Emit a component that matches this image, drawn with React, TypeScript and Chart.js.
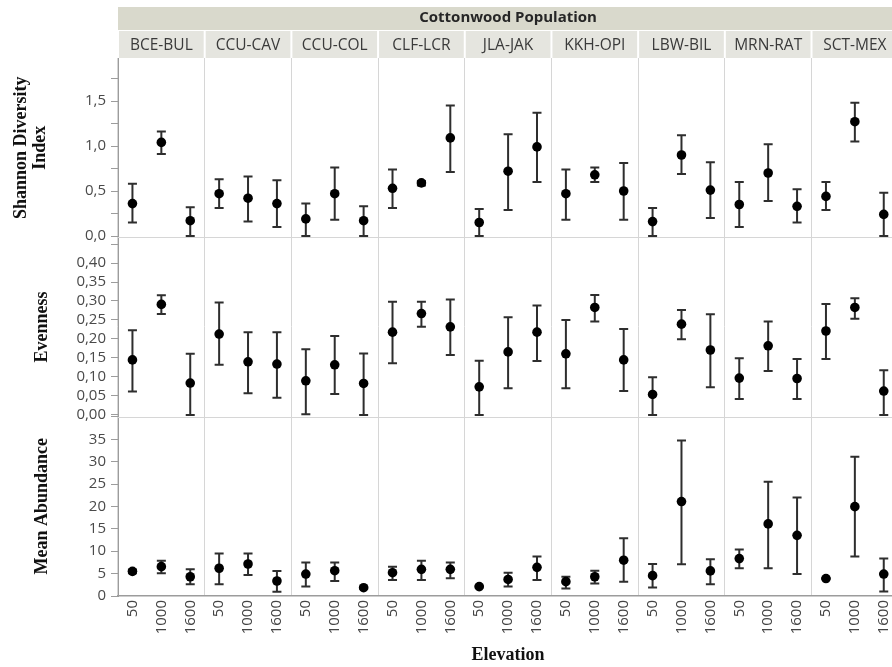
import React, { useEffect, useRef } from 'react';
import { Chart, registerables } from 'chart.js';

Chart.register(...registerables);

// ---------- data ----------
const populations = ['BCE-BUL', 'CCU-CAV', 'CCU-COL', 'CLF-LCR', 'JLA-JAK', 'KKH-OPI', 'LBW-BIL', 'MRN-RAT', 'SCT-MEX'];
const elevations = ['50', '1000', '1600'];

// order: population by population, elevation 50 / 1000 / 1600
const shannonMean = [0.36, 1.04, 0.17, 0.47, 0.42, 0.36, 0.19, 0.47, 0.17, 0.53, 0.59, 1.09, 0.15, 0.72, 0.99, 0.47, 0.68, 0.50, 0.16, 0.90, 0.51, 0.35, 0.70, 0.33, 0.44, 1.27, 0.24];
const shannonLow = [0.15, 0.91, 0.0, 0.31, 0.16, 0.10, 0.0, 0.18, 0.0, 0.31, 0.56, 0.71, 0.0, 0.29, 0.60, 0.18, 0.60, 0.18, 0.0, 0.69, 0.20, 0.10, 0.39, 0.15, 0.29, 1.05, 0.0];
const shannonHigh = [0.58, 1.16, 0.32, 0.63, 0.66, 0.62, 0.36, 0.76, 0.33, 0.74, 0.61, 1.45, 0.30, 1.13, 1.37, 0.74, 0.76, 0.81, 0.31, 1.12, 0.82, 0.60, 1.02, 0.52, 0.60, 1.48, 0.48];

const evenMean = [0.145, 0.291, 0.084, 0.213, 0.140, 0.134, 0.090, 0.132, 0.083, 0.218, 0.267, 0.232, 0.074, 0.166, 0.218, 0.161, 0.283, 0.145, 0.054, 0.239, 0.171, 0.097, 0.182, 0.096, 0.221, 0.283, 0.063];
const evenLow = [0.062, 0.266, 0.0, 0.132, 0.057, 0.045, 0.002, 0.055, 0.0, 0.136, 0.232, 0.158, 0.0, 0.070, 0.142, 0.070, 0.246, 0.063, 0.0, 0.199, 0.073, 0.042, 0.116, 0.042, 0.147, 0.253, 0.0];
const evenHigh = [0.223, 0.315, 0.161, 0.296, 0.218, 0.218, 0.173, 0.208, 0.162, 0.298, 0.298, 0.304, 0.143, 0.257, 0.288, 0.250, 0.316, 0.226, 0.099, 0.276, 0.265, 0.149, 0.246, 0.147, 0.292, 0.307, 0.118];

const abundMean = [5.5, 6.55, 4.3, 6.2, 7.15, 3.35, 4.9, 5.65, 1.85, 5.2, 5.95, 5.95, 2.1, 3.7, 6.4, 3.2, 4.3, 8.0, 4.55, 21.1, 5.6, 8.35, 16.1, 13.55, 3.9, 19.95, 4.9];
const abundLow = [5.1, 5.1, 2.6, 2.6, 4.7, 0.97, 2.1, 3.35, 1.65, 3.6, 3.6, 3.95, 1.9, 2.1, 3.6, 1.7, 2.8, 3.2, 1.9, 7.1, 2.6, 6.2, 6.2, 4.9, 3.8, 8.8, 1.0];
const abundHigh = [5.9, 7.9, 5.95, 9.5, 9.5, 5.6, 7.5, 7.5, 2.05, 6.55, 7.9, 7.5, 2.3, 5.2, 8.8, 4.3, 5.65, 12.9, 7.15, 34.7, 8.2, 10.4, 25.5, 22.0, 4.0, 31.1, 8.4];

const headerTitle = 'Cottonwood Population';
const xTitle = 'Elevation';
const rowTitles = [['Shannon Diversity', 'Index'], 'Evenness', 'Mean Abundance'];

const xLabels = populations.flatMap(() => elevations);

// ---------- styling ----------
const SANS = "'Open Sans', 'Noto Sans', sans-serif";
const SERIF = "'Liberation Serif', 'DejaVu Serif', serif";
const AXIS_GRAY = '#9c9c9c';
const GRID_GRAY = '#d6d6d6';

const errorBarPlugin = {
  id: 'errorBars',
  beforeDatasetsDraw(chart: any) {
    const ctx = chart.ctx;
    chart.data.datasets.forEach((ds: any, i: number) => {
      const meta = chart.getDatasetMeta(i);
      const ys = chart.scales[ds.yAxisID];
      ctx.save();
      ctx.strokeStyle = '#2e2e2e';
      ctx.lineWidth = 2;
      meta.data.forEach((pt: any, j: number) => {
        const x = pt.x;
        const yl = ys.getPixelForValue(ds.errLow[j]);
        const yh = ys.getPixelForValue(ds.errHigh[j]);
        ctx.beginPath();
        ctx.moveTo(x, yl);
        ctx.lineTo(x, yh);
        ctx.moveTo(x - 4.5, yl);
        ctx.lineTo(x + 4.5, yl);
        ctx.moveTo(x - 4.5, yh);
        ctx.lineTo(x + 4.5, yh);
        ctx.stroke();
      });
      ctx.restore();
    });
  },
};

const panelPlugin = {
  id: 'panels',
  beforeDatasetsDraw(chart: any) {
    const ctx = chart.ctx;
    const { left, right } = chart.chartArea;
    ctx.save();
    ctx.strokeStyle = GRID_GRAY;
    ctx.lineWidth = 1;
    ['y1', 'y2'].forEach((id) => {
      const y = Math.round(chart.scales[id].bottom) + 0.5;
      ctx.beginPath();
      ctx.moveTo(left, y);
      ctx.lineTo(right, y);
      ctx.stroke();
    });
    ctx.restore();
  },
  afterDraw(chart: any) {
    const ctx = chart.ctx;
    const { left, right } = chart.chartArea;
    const colW = (right - left) / populations.length;
    ctx.save();
    // top strip
    ctx.fillStyle = '#d9d9cc';
    ctx.fillRect(left, 7, right - left, 23);
    ctx.fillStyle = '#262626';
    ctx.font = `bold 15px ${SANS}`;
    ctx.textAlign = 'center';
    ctx.textBaseline = 'middle';
    ctx.fillText(headerTitle, (left + right) / 2, 18);
    // population strip
    populations.forEach((p, i) => {
      const x0 = left + i * colW;
      ctx.fillStyle = '#e5e5df';
      ctx.fillRect(x0 + 1, 31, colW - 2, 27);
      ctx.fillStyle = '#3a3a3a';
      ctx.font = `15.5px ${SANS}`;
      ctx.fillText(p, x0 + colW / 2, 46);
    });
    ctx.restore();
  },
};

const yCommon = () => ({
  type: 'linear' as const,
  position: 'left' as const,
  stack: 'rows',
  stackWeight: 1,
  grid: { drawOnChartArea: false, drawTicks: true, tickLength: 7, color: AXIS_GRAY },
  border: { color: AXIS_GRAY, width: 1 },
  afterFit: (s: any) => {
    s.width = 118;
  },
});

export default function App() {
  const ref = useRef<HTMLCanvasElement>(null);

  useEffect(() => {
    if (!ref.current) return;
    const tickFont = { family: SANS, size: 15 };
    const titleFont = { family: SERIF, size: 18, weight: 'bold' as const, lineHeight: 1.05 };
    const chart = new Chart(ref.current, {
      type: 'line',
      data: {
        labels: xLabels,
        datasets: [
          { label: 'Shannon', data: shannonMean, yAxisID: 'y1', xAxisID: 'x', errLow: shannonLow, errHigh: shannonHigh } as any,
          { label: 'Evenness', data: evenMean, yAxisID: 'y2', xAxisID: 'x', errLow: evenLow, errHigh: evenHigh } as any,
          { label: 'Abundance', data: abundMean, yAxisID: 'y3', xAxisID: 'x', errLow: abundLow, errHigh: abundHigh } as any,
        ].map((d) => ({
          ...d,
          showLine: false,
          pointRadius: 4.8,
          pointHoverRadius: 4.8,
          pointBackgroundColor: '#000',
          pointBorderColor: '#000',
          pointBorderWidth: 0,
        })),
      },
      options: {
        responsive: false,
        animation: false,
        maintainAspectRatio: false,
        events: [],
        layout: { padding: { top: 58, left: 0, right: 0, bottom: 0 } },
        plugins: { legend: { display: false }, tooltip: { enabled: false }, title: { display: false } },
        scales: {
          x: {
            type: 'category',
            position: 'bottom',
            offset: true,
            grid: {
              offset: true,
              drawTicks: false,
              color: (c: any) => (c.index % 3 === 0 ? GRID_GRAY : 'rgba(0,0,0,0)'),
            },
            border: { color: AXIS_GRAY, width: 1.5 },
            ticks: { autoSkip: false, minRotation: 90, maxRotation: 90, padding: 4, color: '#444', font: tickFont },
            title: { display: true, text: xTitle, color: '#111', font: { family: SERIF, size: 18, weight: 'bold' }, padding: { top: 0, bottom: 1 } },
            afterFit: (s: any) => {
              s.height = 71;
              s.paddingLeft = 0;
              s.paddingRight = 0;
            },
          },
          y1: {
            ...yCommon(),
            weight: 3,
            min: -0.0148,
            max: 1.978,
            ticks: {
              stepSize: 0.25,
              includeBounds: false,
              autoSkip: false,
              padding: 5,
              color: '#4a4a4a',
              font: tickFont,
              callback: (v: any) => (Math.round(v * 4) % 2 === 0 ? Number(v).toFixed(1).replace('.', ',') : ''),
            },
            title: { display: true, text: rowTitles[0], color: '#111', font: titleFont, padding: { top: 12 } },
          },
          y2: {
            ...yCommon(),
            weight: 2,
            min: -0.0045,
            max: 0.4676,
            ticks: {
              stepSize: 0.05,
              includeBounds: false,
              autoSkip: false,
              padding: 5,
              color: '#4a4a4a',
              font: tickFont,
              callback: (v: any) => (v > 0.42 ? '' : Number(v).toFixed(2).replace('.', ',')),
            },
            title: { display: true, text: rowTitles[1], color: '#111', font: titleFont, padding: { top: 33 } },
          },
          y3: {
            ...yCommon(),
            weight: 1,
            min: 0,
            max: 40.05,
            ticks: {
              stepSize: 5,
              includeBounds: false,
              autoSkip: false,
              padding: 5,
              color: '#4a4a4a',
              font: tickFont,
              callback: (v: any) => (v > 37 ? '' : String(v)),
            },
            title: { display: true, text: rowTitles[2], color: '#111', font: titleFont, padding: { top: 33 } },
          },
        } as any,
      },
      plugins: [panelPlugin, errorBarPlugin],
    });
    return () => chart.destroy();
  }, []);

  return (
    <div style={{ position: 'fixed', left: 0, top: 0, width: 892, height: 667, overflow: 'hidden', background: '#fff' }}>
      <canvas ref={ref} width={903} height={667} style={{ display: 'block', width: 903, height: 667 }} />
    </div>
  );
}
